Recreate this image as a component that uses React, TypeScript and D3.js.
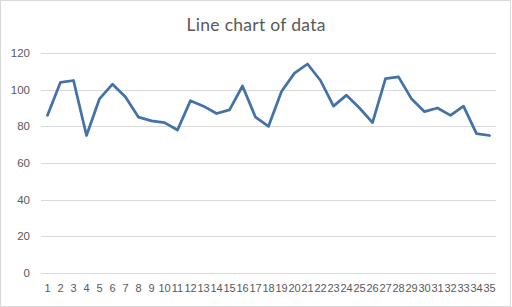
import React, { useEffect, useRef } from "react";
import * as d3 from "d3";

const categories: string[] = Array.from({ length: 35 }, (_, i) => String(i + 1));
const values: number[] = [
  86, 104, 105, 75, 95, 103, 96, 85, 83, 82, 78, 94, 91, 87, 89, 102, 85, 80,
  99, 109, 114, 105, 91, 97, 90, 82, 106, 107, 95, 88, 90, 86, 91, 76, 75,
];
const yTicks: number[] = [0, 20, 40, 60, 80, 100, 120];
const title = "Line chart of data";

const W = 512;
const H = 307;

export default function App() {
  const ref = useRef<SVGSVGElement | null>(null);

  useEffect(() => {
    const svg = d3.select(ref.current);
    svg.selectAll("*").remove();

    const left = 41, right = 496, top = 53, bottom = 273;
    const x = d3.scaleBand<string>().domain(categories).range([left, right]);
    const y = d3.scaleLinear().domain([0, 120]).range([bottom, top]);

    svg.append("rect")
      .attr("x", 0.5).attr("y", 0.5)
      .attr("width", 510).attr("height", H - 1)
      .attr("fill", "#ffffff").attr("stroke", "#d9d9d9");

    svg.append("text")
      .attr("x", 256).attr("y", 30.5)
      .attr("text-anchor", "middle")
      .attr("font-family", "Lato")
      .attr("font-size", 17.5)
      .attr("textLength", 139)
      .attr("lengthAdjust", "spacing")
      .attr("fill", "#595959")
      .text(title);

    const grid = svg.append("g");
    yTicks.forEach((t) => {
      grid.append("line")
        .attr("x1", left).attr("x2", right)
        .attr("y1", Math.round(y(t)) + 0.5).attr("y2", Math.round(y(t)) + 0.5)
        .attr("stroke", "#d9d9d9").attr("stroke-width", 1);
      grid.append("text")
        .attr("x", 30).attr("y", y(t))
        .attr("dy", "0.35em")
        .attr("text-anchor", "end")
        .attr("font-family", "Liberation Sans")
        .attr("font-size", 11.5)
        .attr("fill", "#595959")
        .text(String(t));
    });

    categories.forEach((c) => {
      svg.append("text")
        .attr("x", (x(c) as number) + x.bandwidth() / 2)
        .attr("y", 292)
        .attr("text-anchor", "middle")
        .attr("font-family", "Liberation Sans")
        .attr("font-size", 11)
        .attr("fill", "#595959")
        .text(c);
    });

    const line = d3.line<number>()
      .x((_, i) => (x(categories[i]) as number) + x.bandwidth() / 2)
      .y((d) => y(d));

    svg.append("path")
      .datum(values)
      .attr("d", line)
      .attr("fill", "none")
      .attr("stroke", "#4472a8")
      .attr("stroke-width", 2.75)
      .attr("stroke-linejoin", "round")
      .attr("stroke-linecap", "round");
  }, []);

  return (
    <svg
      ref={ref}
      width={W}
      height={H}
      style={{ position: "absolute", left: 0, top: 0, display: "block" }}
    />
  );
}
